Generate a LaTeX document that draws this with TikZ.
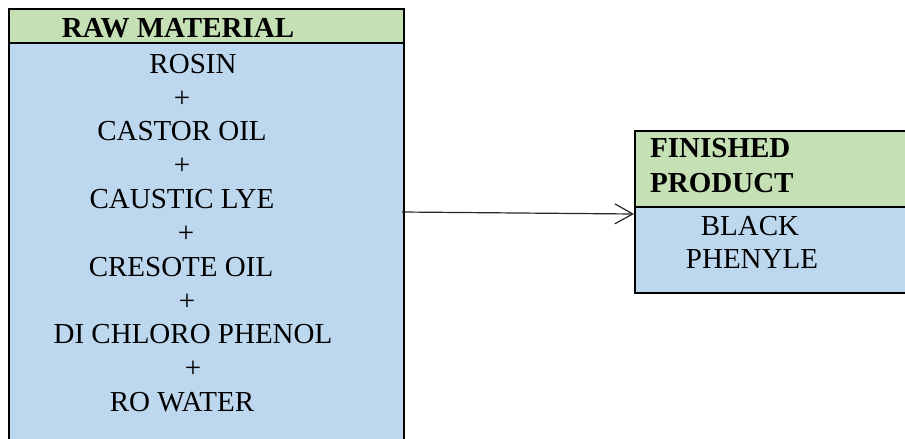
\documentclass[tikz,border=0pt]{standalone}
\usepackage{fontspec}
\setmainfont{Liberation Serif}
\usetikzlibrary{arrows.meta}
\definecolor{hdrgreen}{HTML}{C5E0B4}
\definecolor{bodyblue}{HTML}{BDD7EE}
\begin{document}
\begin{tikzpicture}[x=1pt,y=-1pt,
  boxpart/.style={draw=black,line width=2pt},
  txt/.style={inner sep=0pt,anchor=base,font=\fontsize{29}{34}\selectfont},
  btxt/.style={inner sep=0pt,anchor=base west,font=\fontsize{29}{34}\selectfont\bfseries},
  flow/.style={line width=1.2pt,draw=black!85,-{Straight Barb[length=18pt,width=20pt,line width=1.2pt]}}]
\useasboundingbox (0,0) rectangle (905,439);
% left box
\path[boxpart,fill=bodyblue] (9,43) rectangle (404,450);
\path[boxpart,fill=hdrgreen] (9,9) rectangle (404,43);
\node[txt,font=\fontsize{29}{34}\selectfont\bfseries] (rawh) at (178,37) {RAW MATERIAL};
\node[txt] (l1) at (193,73) {ROSIN};
\node[txt] (p1) at (182,107) {+};
\node[txt] (l2) at (182,140) {CASTOR OIL};
\node[txt] (p2) at (182,174) {+};
\node[txt] (l3) at (182,208) {CAUSTIC LYE};
\node[txt] (p3) at (186,242) {+};
\node[txt] (l4) at (181,276) {CRESOTE OIL};
\node[txt] (p4) at (187,310) {+};
\node[txt] (l5) at (193,343) {DI CHLORO PHENOL};
\node[txt] (p5) at (193,377) {+};
\node[txt] (l6) at (182,411) {RO WATER};
% right box
\path[boxpart,fill=bodyblue] (635,207) rectangle (915,293);
\path[boxpart,fill=hdrgreen] (635,131) rectangle (915,207);
\node[btxt] (fh1) at (650,157) {FINISHED};
\node[btxt] (fh2) at (650,192) {PRODUCT};
\node[txt] (r1) at (750,235) {BLACK};
\node[txt] (r2) at (752,268) {PHENYLE};
% connector
\coordinate (a) at (402,212);
\coordinate (b) at (634,214);
\draw[flow] (a) -- (b);
\end{tikzpicture}
\end{document}
